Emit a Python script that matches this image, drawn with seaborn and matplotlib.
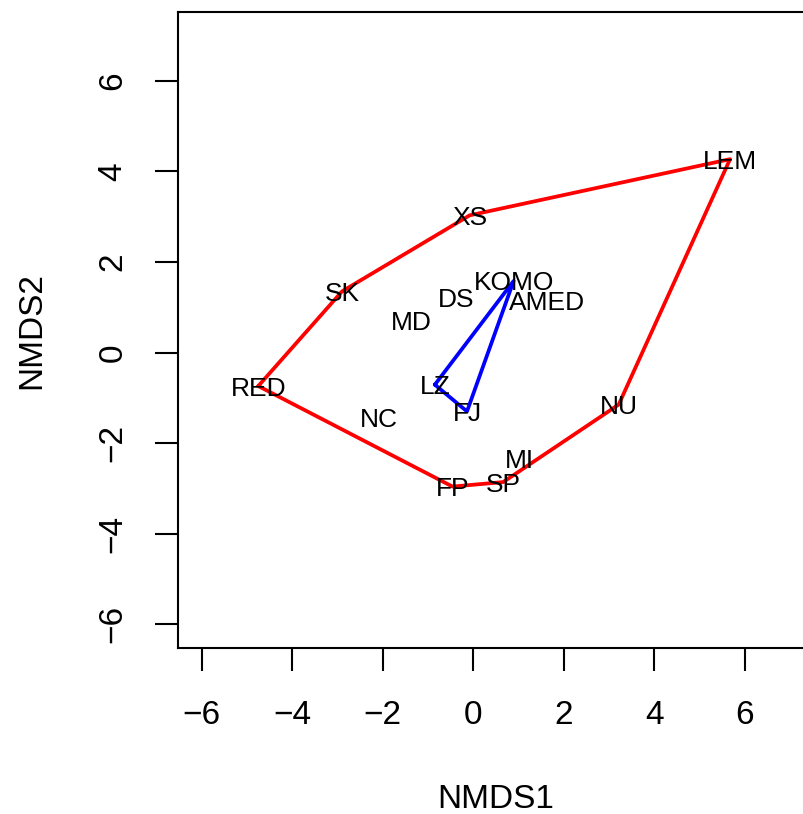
import matplotlib
matplotlib.use("Agg")
import matplotlib.pyplot as plt
import seaborn as sns
import pandas as pd

# ---- data ----
sites = ["LEM", "XS", "SK", "RED", "FP", "SP", "MI", "NU", "NC", "MD", "DS", "AMED",
         "KOMO", "LZ", "FJ"]
nmds1 = [5.67, -0.08, -2.90, -4.75, -0.46, 0.66, 1.01, 3.21, -2.08, -1.37, -0.39, 1.63,
         0.89, -0.85, -0.14]
nmds2 = [4.27, 3.03, 1.35, -0.74, -2.96, -2.86, -2.33, -1.15, -1.43, 0.70, 1.22, 1.15,
         1.58, -0.71, -1.30]
group = ["A", "A", "A", "A", "A", "A", "A", "A", "A", "A", "A", "A",
         "B", "B", "B"]
group_colors = {"A": "#ff0000", "B": "#0000ff"}
x_ticks = [-6, -4, -2, 0, 2, 4, 6]
y_ticks = [-6, -4, -2, 0, 2, 4, 6]

df = pd.DataFrame({"site": sites, "NMDS1": nmds1, "NMDS2": nmds2, "group": group})


def convex_hull(points):
    pts = sorted(set(points))
    if len(pts) <= 2:
        return pts

    def cross(o, a, b):
        return (a[0] - o[0]) * (b[1] - o[1]) - (a[1] - o[1]) * (b[0] - o[0])

    lower = []
    for p in pts:
        while len(lower) >= 2 and cross(lower[-2], lower[-1], p) <= 0:
            lower.pop()
        lower.append(p)
    upper = []
    for p in reversed(pts):
        while len(upper) >= 2 and cross(upper[-2], upper[-1], p) <= 0:
            upper.pop()
        upper.append(p)
    return lower[:-1] + upper[:-1]


sns.set_style("ticks")
plt.rcParams["font.family"] = ["Liberation Sans", "DejaVu Sans"]
plt.rcParams["text.color"] = "black"
plt.rcParams["axes.labelcolor"] = "black"
plt.rcParams["xtick.color"] = "black"
plt.rcParams["ytick.color"] = "black"
plt.rcParams["axes.edgecolor"] = "black"

fig = plt.figure(figsize=(8.04, 8.14), dpi=100)
ax = fig.add_axes([0.2210, 0.2036, 0.7912, 0.7817])

for g, sub in df.groupby("group"):
    hull = convex_hull(list(zip(sub["NMDS1"], sub["NMDS2"])))
    hull = hull + [hull[0]]
    hdf = pd.DataFrame(hull, columns=["x", "y"])
    sns.lineplot(data=hdf, x="x", y="y", sort=False, estimator=None,
                 color=group_colors[g], linewidth=2.7, ax=ax)

for s, x, y in zip(df["site"], df["NMDS1"], df["NMDS2"]):
    ax.text(x, y, s, ha="center", va="center_baseline", fontsize=19, color="black")

ax.set_xlim(-6.53, 7.52)
ax.set_ylim(-6.53, 7.52)
ax.set_xticks(x_ticks)
ax.set_yticks(y_ticks)
ax.tick_params(axis="both", direction="out", length=16.3, width=1.5,
               labelsize=24, color="black", labelcolor="black")
ax.tick_params(axis="x", pad=21)
ax.tick_params(axis="y", pad=19, labelrotation=90)
for lab in ax.get_yticklabels():
    lab.set_va("center")
for sp in ax.spines.values():
    sp.set_linewidth(1.5)
    sp.set_color("black")

ax.set_xlabel("NMDS1", fontsize=24, color="black")
ax.set_ylabel("NMDS2", fontsize=24, color="black")
ax.xaxis.set_label_coords(0.5, -0.2135)
ax.yaxis.set_label_coords(-0.2047, 0.5)

fig.savefig("out.png", dpi=100)
